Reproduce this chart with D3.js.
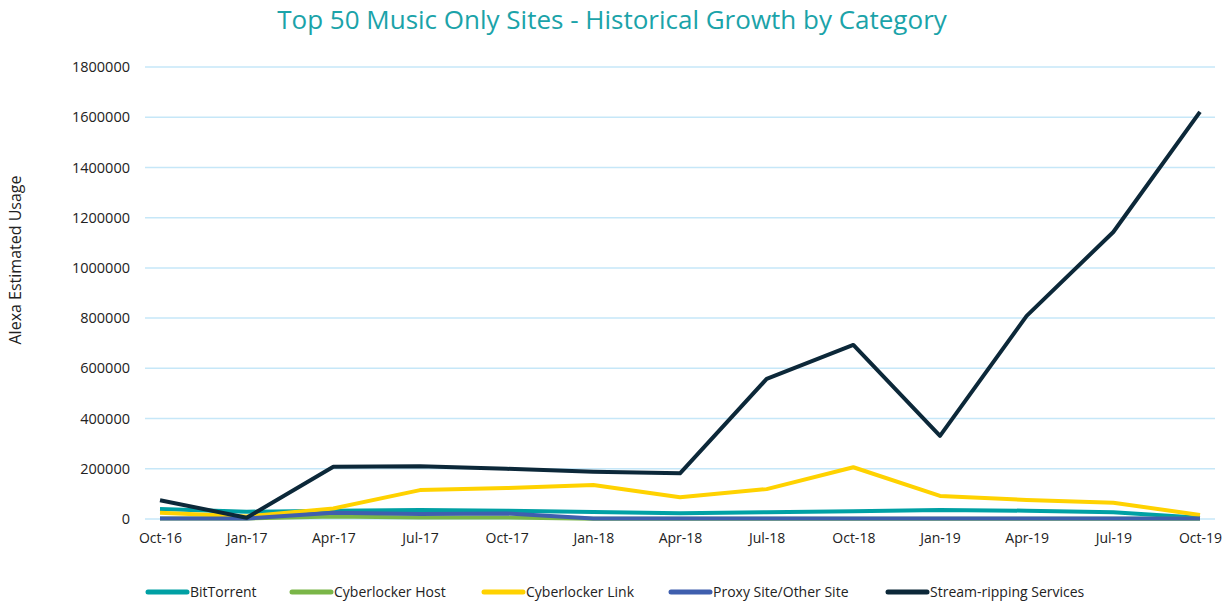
<!DOCTYPE html>
<html><head><meta charset="utf-8">
<script src="https://cdn.jsdelivr.net/npm/d3@7"></script>
<style>body{margin:0;background:#fff;} svg{display:block;} text{font-family:"Open Sans",Lato,sans-serif;}</style>
</head><body>
<svg id="c" width="1231" height="602"></svg>
<script>
const categories = ["Oct-16","Jan-17","Apr-17","Jul-17","Oct-17","Jan-18","Apr-18","Jul-18","Oct-18","Jan-19","Apr-19","Jul-19","Oct-19"];
const bitTorrent = [40000,29000,33000,36000,33000,28000,23000,27000,31000,36000,33000,27000,5000];
const cyberlockerHost = [2000,2000,10000,6000,6000,1000,500,500,500,500,500,500,500];
const cyberlockerLink = [25000,10000,42000,115000,123000,135000,87000,119000,206000,92000,76000,65000,16000];
const proxySite = [2000,2000,25000,20000,22000,2000,2000,2000,2000,2000,2000,2000,2000];
const streamRipping = [75000,5000,208000,210000,200000,188000,182000,558000,693000,331000,809000,1143000,1621000];
const yTicks = [0,200000,400000,600000,800000,1000000,1200000,1400000,1600000,1800000];
const seriesNames = ["BitTorrent","Cyberlocker Host","Cyberlocker Link","Proxy Site/Other Site","Stream-ripping Services"];
const seriesColors = ["#00A0A4","#7AB648","#FFD200","#3F5FAE","#0C2839"];
const seriesData = [bitTorrent,cyberlockerHost,cyberlockerLink,proxySite,streamRipping];

const svg = d3.select("#c");
const x = d3.scalePoint().domain(categories).range([160,1200]);
const y = d3.scaleLinear().domain([0,1800000]).range([519,67]);

svg.append("text").attr("x",612).attr("y",29).attr("text-anchor","middle")
  .attr("fill","#1BA3A9").attr("font-size",26).text("Top 50 Music Only Sites - Historical Growth by Category");

// grid
svg.append("g").selectAll("line").data(yTicks).join("line")
  .attr("x1",145).attr("x2",1215).attr("y1",d=>y(d)).attr("y2",d=>y(d))
  .attr("stroke","#C6E7F8").attr("stroke-width",1.5);

// y axis labels
const ya = svg.append("g").attr("transform","translate(138,0)")
  .call(d3.axisLeft(y).tickValues(yTicks).tickSize(0).tickPadding(8).tickFormat(d3.format("d")));
ya.select(".domain").remove();
ya.selectAll("text").attr("font-size",14.5).attr("fill","#222").style("font-family","'Open Sans',sans-serif");

// x axis labels
const xa = svg.append("g").attr("transform","translate(0,527)")
  .call(d3.axisBottom(x).tickSize(0).tickPadding(6));
xa.select(".domain").remove();
xa.selectAll("text").attr("font-size",14).attr("fill","#222").style("font-family","'Open Sans',sans-serif");

svg.append("text").attr("transform","translate(21,260) rotate(-90)").attr("text-anchor","middle")
  .attr("font-size",16).attr("fill","#222").text("Alexa Estimated Usage");

const line = d3.line().x((d,i)=>x(categories[i])).y(d=>y(d));
seriesData.forEach((s,k)=>{
  svg.append("path").datum(s).attr("d",line).attr("fill","none")
    .attr("stroke",seriesColors[k]).attr("stroke-width",4).attr("stroke-linejoin","round");
});

// legend
const legX = [148,292,484,671,888];
const lg = svg.append("g");
seriesNames.forEach((n,k)=>{
  lg.append("line").attr("x1",legX[k]).attr("x2",legX[k]+39).attr("y1",592).attr("y2",592)
    .attr("stroke",seriesColors[k]).attr("stroke-width",5).attr("stroke-linecap","round");
  lg.append("text").attr("x",legX[k]+42).attr("y",597).attr("font-size",14).attr("fill","#222").text(n);
});
</script>
</body></html>
